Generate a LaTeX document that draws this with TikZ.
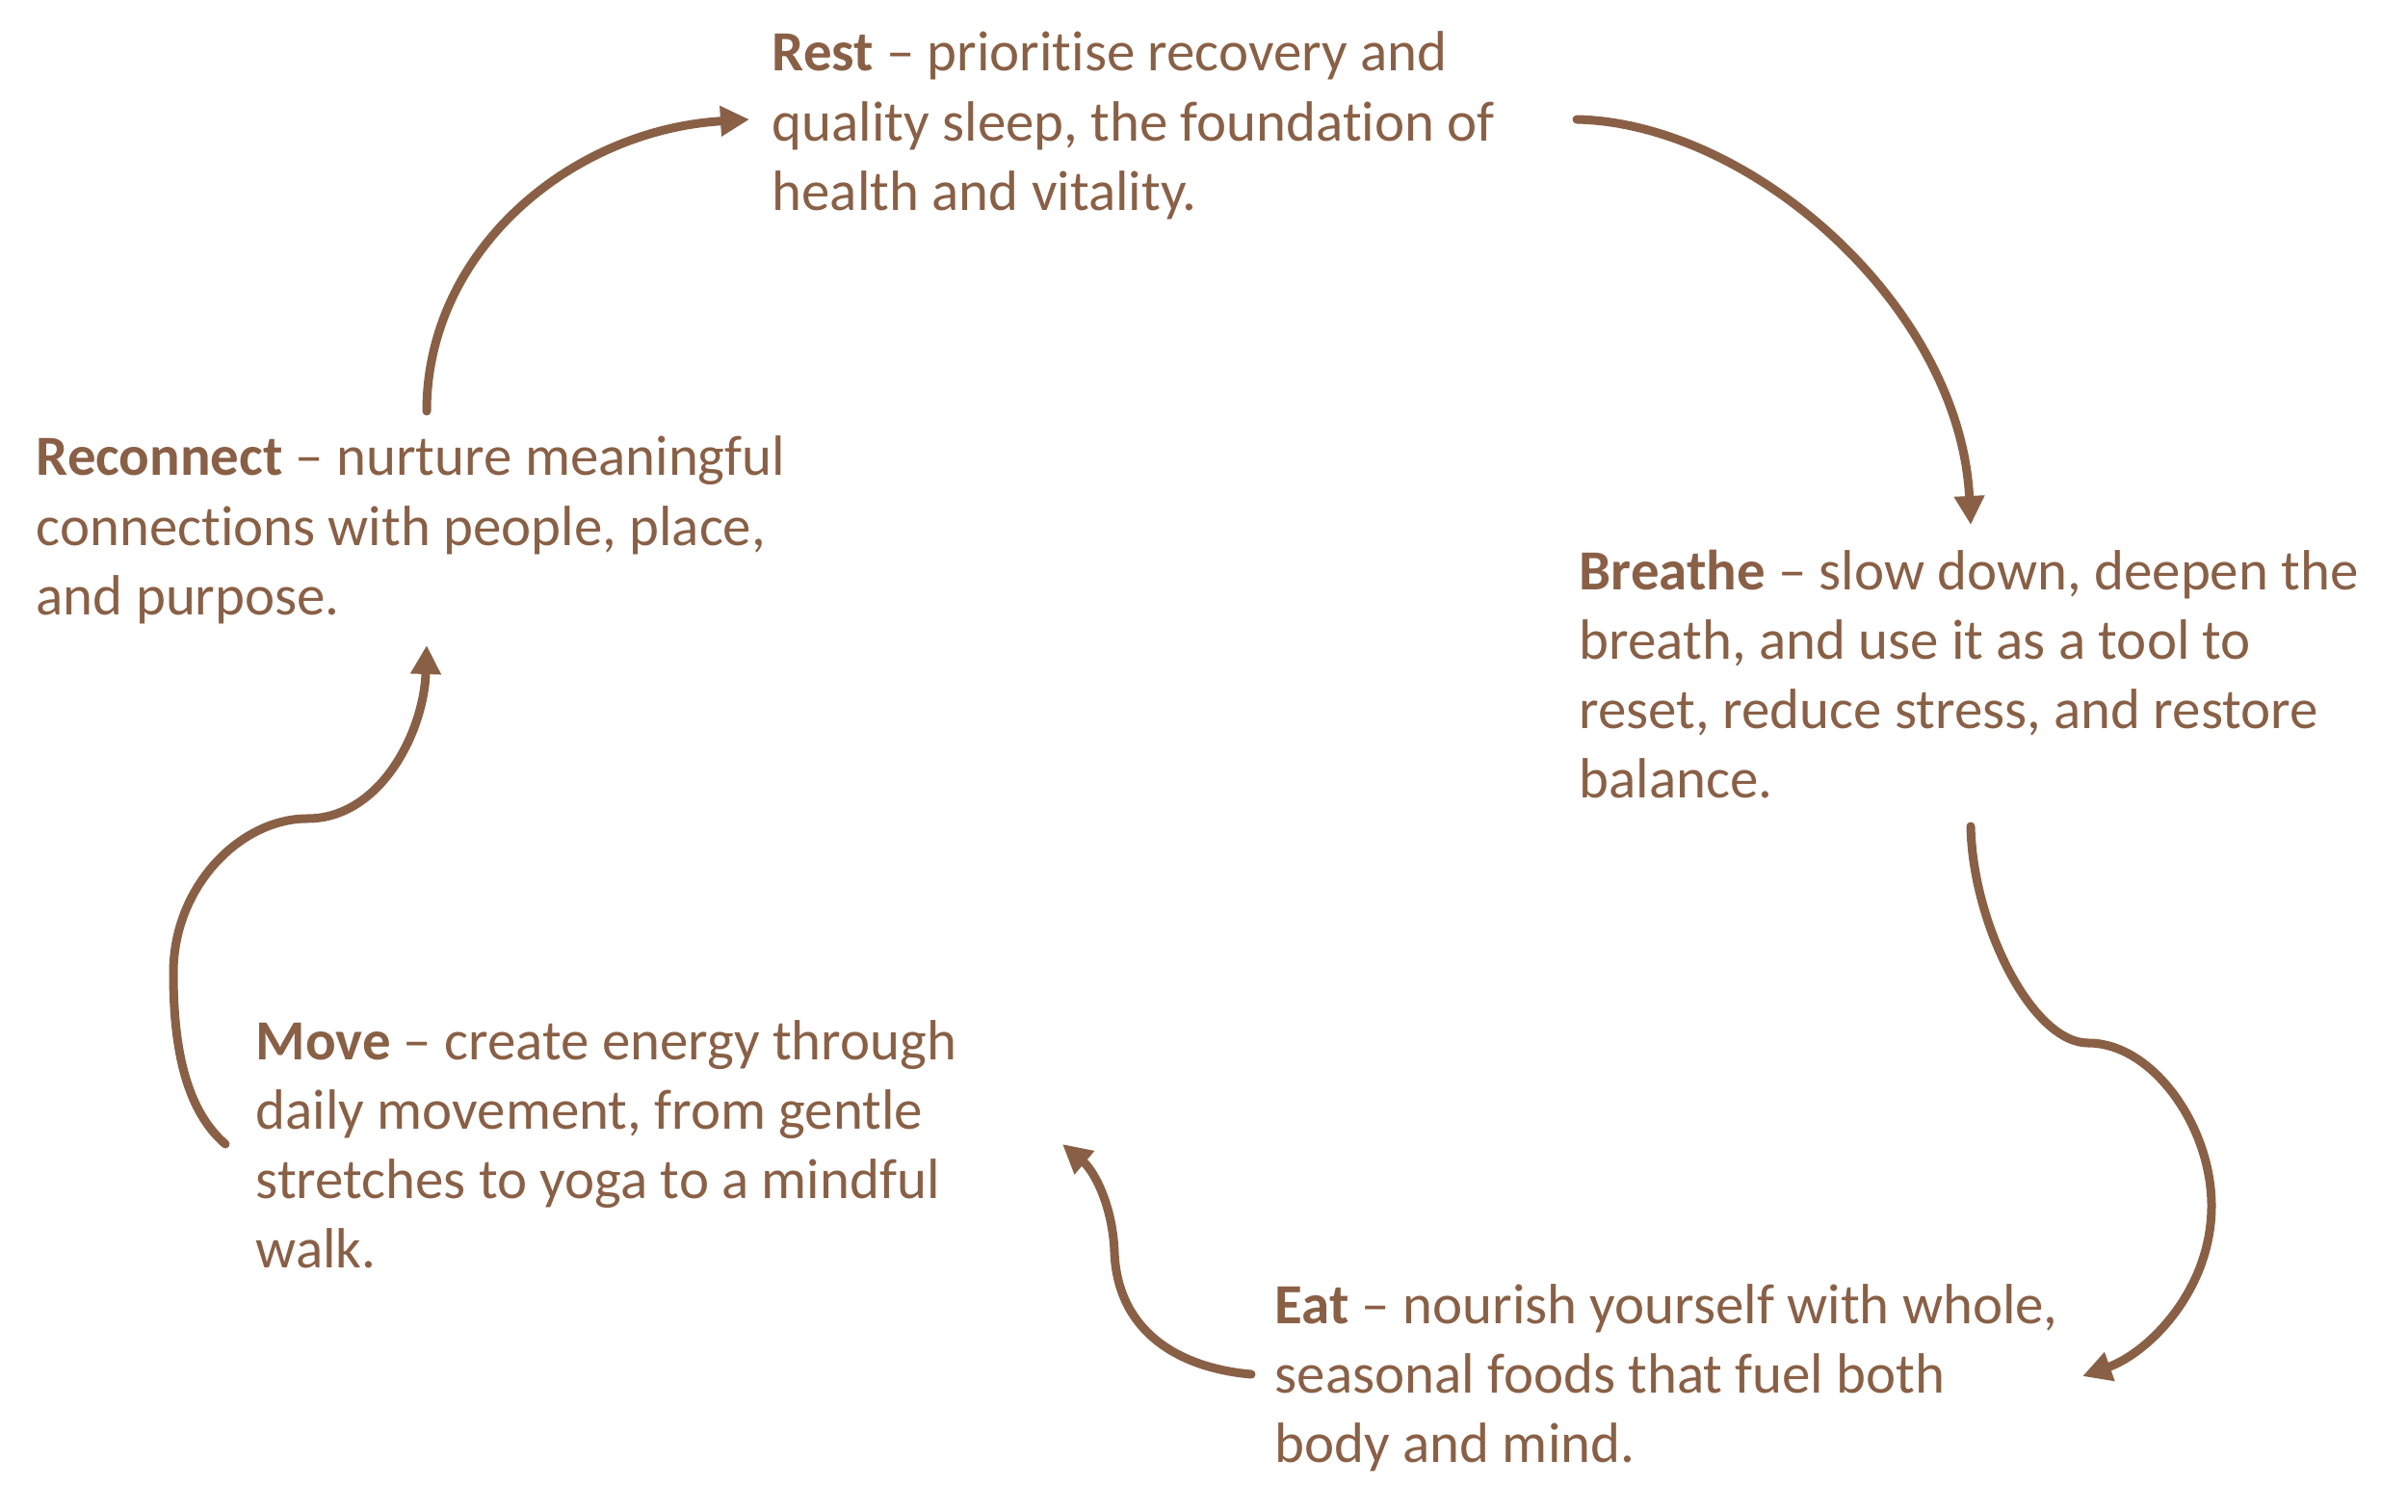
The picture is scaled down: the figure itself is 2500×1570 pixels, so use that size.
\documentclass[tikz,border=0pt]{standalone}
\usepackage{fontspec}
\setmainfont{Carlito}[Ligatures=NoCommon]
\usetikzlibrary{arrows.meta}
\definecolor{brn}{RGB}{137,96,70}
\begin{document}
\begin{tikzpicture}[x=0.01cm,y=-0.01cm,
  txt/.style={anchor=base west, inner sep=0pt, text=brn, font=\fontsize{16.75pt}{20.5pt}\selectfont},
  conn/.style={draw=brn, line width=0.9mm, line cap=round, -{Triangle[width=3mm,length=3mm]}}]
\useasboundingbox (0,0) rectangle (2500,1570);

\node[txt] (rest) at (801,74) {\begin{tabular}[t]{@{}l@{}}\textbf{Rest} – prioritise recovery and\\ quality sleep, the foundation of\\ health and vitality.\end{tabular}};
\node[txt] (breathe) at (1639,612) {\begin{tabular}[t]{@{}l@{}}\textbf{Breathe} – slow down, deepen the\\ breath, and use it as a tool to\\ reset, reduce stress, and restore\\ balance.\end{tabular}};
\node[txt] (eat) at (1323,1374) {\begin{tabular}[t]{@{}l@{}}\textbf{Eat} – nourish yourself with whole,\\ seasonal foods that fuel both\\ body and mind.\end{tabular}};
\node[txt] (move) at (265,1100) {\begin{tabular}[t]{@{}l@{}}\textbf{Move} – create energy through\\ daily movement, from gentle\\ stretches to yoga to a mindful\\ walk.\end{tabular}};
\node[txt] (reconnect) at (37,494) {\begin{tabular}[t]{@{}l@{}}\textbf{Reconnect} – nurture meaningful\\ connections with people, place,\\ and purpose.\end{tabular}};

\coordinate (a1s) at (443,427);
\coordinate (a1e) at (778,124);
\coordinate (a2s) at (1637,124);
\coordinate (a2e) at (2046,545);
\coordinate (a3s) at (2046,858);
\coordinate (a3e) at (2162,1429);
\coordinate (a4s) at (1299,1427);
\coordinate (a4e) at (1103,1188);
\coordinate (a5s) at (234,1188);
\coordinate (a5e) at (443,670);

\draw[conn] (a1s) .. controls (443,260) and (593,135) .. (a1e);
\draw[conn] (a2s) .. controls (1820,128) and (2035,320) .. (a2e);
\draw[conn] (a3s) .. controls (2048,960) and (2110,1083) .. (2168,1083)
  .. controls (2235,1083) and (2296,1170) .. (2296,1252)
  .. controls (2296,1340) and (2230,1405) .. (a3e);
\draw[conn] (a4s) .. controls (1220,1420) and (1160,1380) .. (1157,1300)
  .. controls (1155,1250) and (1135,1215) .. (a4e);
\draw[conn] (a5s) .. controls (190,1150) and (180,1080) .. (180,1010)
  .. controls (180,920) and (250,850) .. (319,850)
  .. controls (395,850) and (440,760) .. (a5e);
\end{tikzpicture}
\end{document}
